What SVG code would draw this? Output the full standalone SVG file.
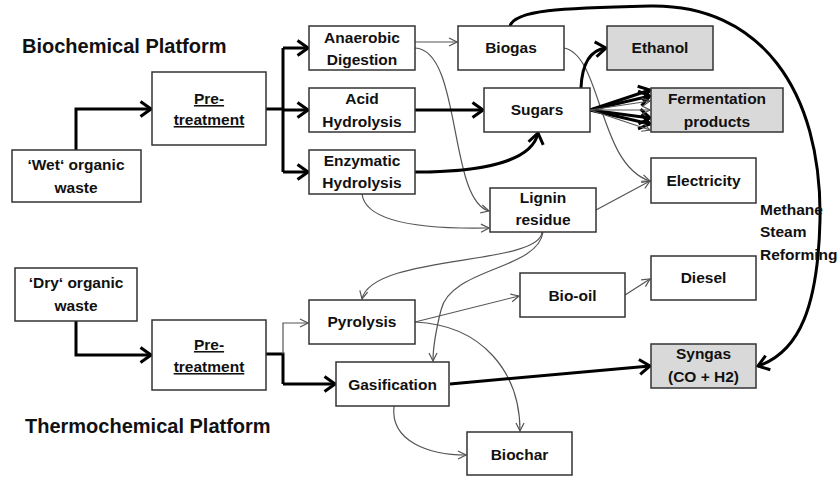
<svg xmlns="http://www.w3.org/2000/svg" width="840" height="477" viewBox="0 0 840 477">
<style>
.bx{fill:#fff;stroke:#333;stroke-width:1.5}
.gy{fill:#d9d9d9;stroke:#333;stroke-width:1.5}
.t{font-family:"Liberation Sans",Arial,sans-serif;font-weight:bold;font-size:15.5px;fill:#111;text-anchor:middle}
.u{text-decoration:underline}
.h{font-family:"Liberation Sans",Arial,sans-serif;font-weight:bold;font-size:20px;fill:#111}
.thin{fill:none;stroke:#555;stroke-width:1.2;marker-end:url(#a1)}
.thinn{fill:none;stroke:#555;stroke-width:1.2}
.thk{fill:none;stroke:#000;stroke-width:3;marker-end:url(#a2)}
.thkn{fill:none;stroke:#000;stroke-width:3}
</style>
<defs>
<marker id="a1" viewBox="0 0 10 10" refX="9" refY="5" markerWidth="10" markerHeight="10" markerUnits="userSpaceOnUse" orient="auto"><path d="M1,1 L9,5 L1,9" fill="none" stroke="#555" stroke-width="1.2"/></marker>
<marker id="a2" viewBox="0 0 14 18" refX="12" refY="9" markerWidth="14" markerHeight="18" markerUnits="userSpaceOnUse" orient="auto"><path d="M1.5,1.5 L12,9 L1.5,16.5" fill="none" stroke="#000" stroke-width="3"/></marker>
</defs>
<rect width="840" height="477" fill="#fff"/>
<text class="h" x="22" y="53">Biochemical Platform</text>
<text class="h" x="25" y="433">Thermochemical Platform</text>

<g id="connectors">
<path class="thk" d="M76,150 V109 H151"/>
<path class="thkn" d="M266,109 H283 M283,48 V172"/>
<path class="thk" d="M283,48 H308"/>
<path class="thk" d="M283,110 H308"/>
<path class="thk" d="M283,172 H308"/>
<path class="thk" d="M76,321 V355 H151"/>
<path class="thkn" d="M266,354 H283 V384"/>
<path class="thk" d="M283,384 H335"/>
<path class="thin" d="M283,354 V323 H308"/>
<path class="thin" d="M415,42 H457"/>
<path class="thin" d="M415,48 C462,50 448,200 489,211"/>
<path class="thk" d="M415,110 H483"/>
<path class="thk" d="M415,172 C480,172 532,162 538,133"/>
<path class="thin" d="M362,194 C366,226 440,229 489,228"/>
<path class="thin" d="M564,48 C602,55 598,165 650,181"/>
<path class="thin" d="M596,210 L650,181"/>
<path class="thk" d="M581,88 C582,64 590,50 606,48"/>
<path class="thk" d="M590,110 L650,90"/>
<path class="thk" d="M590,110 L650,96"/>
<path class="thk" d="M590,110 L650,118"/>
<path class="thk" d="M590,110 L650,124"/>
<path class="thin" d="M590,110 L650,101"/>
<path class="thin" d="M590,110 L650,110"/>
<path class="thin" d="M590,110 L650,130"/>
<path class="thk" d="M510,26 C515,10 560,8 650,6 C760,4 822,90 820,220 C818,305 800,352 758,366"/>
<path class="thin" d="M542,232 C540,266 372,254 362,299"/>
<path class="thin" d="M543,232 C538,270 450,268 441,310 C436,330 433,345 433,361"/>
<path class="thin" d="M415,322 L519,296"/>
<path class="thin" d="M415,322 C482,325 520,372 520,431"/>
<path class="thin" d="M625,295 L650,279"/>
<path class="thk" d="M450,384 L650,366"/>
<path class="thin" d="M394,406 C390,442 430,455 466,455"/>
</g>

<g id="wet"><rect class="bx" x="12" y="150" width="129" height="52"/><text class="t" x="76" y="170">‘Wet‘ organic</text><text class="t" x="76" y="193">waste</text></g>
<g id="pre1"><rect class="bx" x="152" y="72" width="114" height="73"/><text class="t u" x="209" y="104">Pre-</text><text class="t u" x="209" y="125">treatment</text></g>
<g id="anaerobic"><rect class="bx" x="309" y="26" width="106" height="44"/><text class="t" x="362" y="43">Anaerobic</text><text class="t" x="362" y="65">Digestion</text></g>
<g id="acid"><rect class="bx" x="309" y="88" width="106" height="44"/><text class="t" x="362" y="104">Acid</text><text class="t" x="362" y="127">Hydrolysis</text></g>
<g id="enzymatic"><rect class="bx" x="309" y="150" width="106" height="44"/><text class="t" x="362" y="166">Enzymatic</text><text class="t" x="362" y="188">Hydrolysis</text></g>
<g id="biogas"><rect class="bx" x="458" y="26" width="106" height="44"/><text class="t" x="511" y="53">Biogas</text></g>
<g id="ethanol"><rect class="gy" x="607" y="26" width="106" height="44"/><text class="t" x="660" y="53">Ethanol</text></g>
<g id="sugars"><rect class="bx" x="484" y="88" width="106" height="44"/><text class="t" x="537" y="115">Sugars</text></g>
<g id="fermentation"><rect class="gy" x="651" y="88" width="132" height="44"/><text class="t" x="717" y="104">Fermentation</text><text class="t" x="717" y="127">products</text></g>
<g id="electricity"><rect class="bx" x="651" y="158" width="105" height="45"/><text class="t" x="703.5" y="186">Electricity</text></g>
<g id="lignin"><rect class="bx" x="490" y="188" width="106" height="44"/><text class="t" x="543" y="203">Lignin</text><text class="t" x="543" y="225">residue</text></g>
<g id="msr"><text class="t" style="text-anchor:start" x="760" y="215">Methane</text><text class="t" style="text-anchor:start" x="760" y="237">Steam</text><text class="t" style="text-anchor:start" x="760" y="260">Reforming</text></g>
<g id="dry"><rect class="bx" x="15" y="268" width="122" height="53"/><text class="t" x="76" y="288">‘Dry‘ organic</text><text class="t" x="76" y="311">waste</text></g>
<g id="pre2"><rect class="bx" x="152" y="320" width="114" height="70"/><text class="t u" x="209" y="350">Pre-</text><text class="t u" x="209" y="372">treatment</text></g>
<g id="pyrolysis"><rect class="bx" x="309" y="300" width="106" height="44"/><text class="t" x="362" y="327">Pyrolysis</text></g>
<g id="gasification"><rect class="bx" x="336" y="362" width="113" height="44"/><text class="t" x="392.5" y="390">Gasification</text></g>
<g id="biooil"><rect class="bx" x="520" y="273" width="105" height="44"/><text class="t" x="572.5" y="301">Bio-oil</text></g>
<g id="diesel"><rect class="bx" x="651" y="256" width="105" height="44"/><text class="t" x="703.5" y="283">Diesel</text></g>
<g id="syngas"><rect class="gy" x="651" y="344" width="105" height="44"/><text class="t" x="703.5" y="359">Syngas</text><text class="t" x="703.5" y="382">(CO + H2)</text></g>
<g id="biochar"><rect class="bx" x="467" y="432" width="105" height="43"/><text class="t" x="519.5" y="460">Biochar</text></g>
</svg>
